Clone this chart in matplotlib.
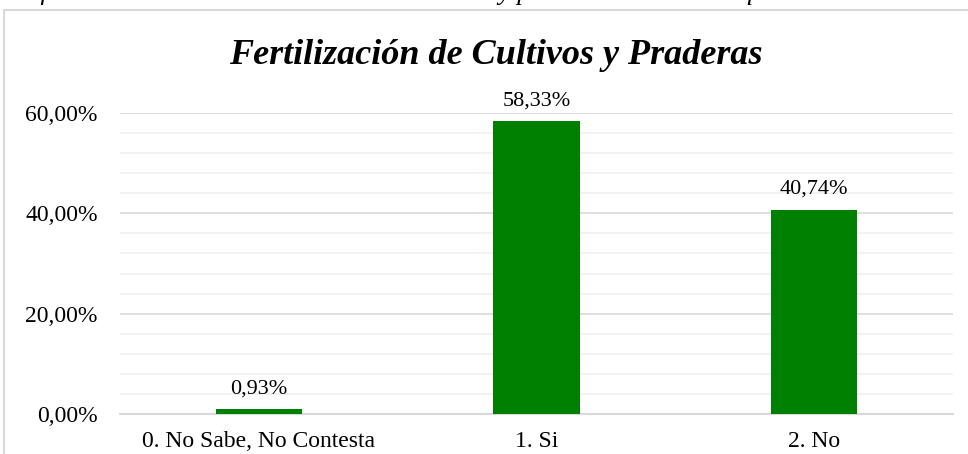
import matplotlib
matplotlib.use("Agg")
import matplotlib.pyplot as plt
from matplotlib.patches import Rectangle
from matplotlib.ticker import MultipleLocator, FuncFormatter

categories = ["0. No Sabe, No Contesta", "1. Si", "2. No"]
values = [0.93, 58.33, 40.74]
title = "Fertilización de Cultivos y Praderas"
caption = "Gráfico: Actividad de Fertilización de cultivos y praderas en la Parroquia San Carlos"

plt.rcParams['font.family'] = ['Liberation Serif', 'DejaVu Serif']

W, H = 968, 454
fig = plt.figure(figsize=(W / 100, H / 100), dpi=100)

# chart border
fig.patches.append(Rectangle((4 / W, -0.1), 1.2, 1 - 10 / H + 0.1, transform=fig.transFigure,
                             fill=False, edgecolor='#d9d9d9', linewidth=1.5, zorder=0))
fig.text(0.47, 1.0 + 6 / H, caption, ha='center', va='center', fontsize=19, style='italic')

ax = fig.add_axes([120 / W, 1 - 414 / H, (953 - 120) / W, (414 - 113) / H])
x = range(len(categories))
bars = ax.bar(x, values, width=0.31, color='#008000', zorder=3)
ax.set_xlim(-0.5, 2.5)
ax.set_ylim(0, 60)
ax.yaxis.set_major_locator(MultipleLocator(20))
ax.yaxis.set_minor_locator(MultipleLocator(4))
ax.yaxis.set_major_formatter(FuncFormatter(lambda v, p: f"{v:.2f}%".replace('.', ',')))
ax.grid(axis='y', which='major', color='#d9d9d9', linewidth=1.2, zorder=0)
ax.grid(axis='y', which='minor', color='#f0f0f0', linewidth=1.2, zorder=0)
for s in ['top', 'right', 'left']:
    ax.spines[s].set_visible(False)
ax.spines['bottom'].set_color('#d9d9d9')
ax.spines['bottom'].set_linewidth(1.5)
ax.tick_params(axis='both', which='both', length=0, labelsize=17)
ax.tick_params(axis='y', pad=16)
ax.tick_params(axis='x', pad=12)
ax.set_xticks(list(x))
ax.set_xticklabels(categories)
for b, v in zip(bars, values):
    ax.annotate(f"{v:.2f}%".replace('.', ','), (b.get_x() + b.get_width() / 2, v),
                xytext=(0, 8), textcoords='offset points', ha='center', va='bottom', fontsize=16)
fig.text(496 / W, 1 - 55 / H, title, ha='center', va='center', fontsize=26,
         fontweight='bold', style='italic')
fig.savefig("out.png", dpi=100)
